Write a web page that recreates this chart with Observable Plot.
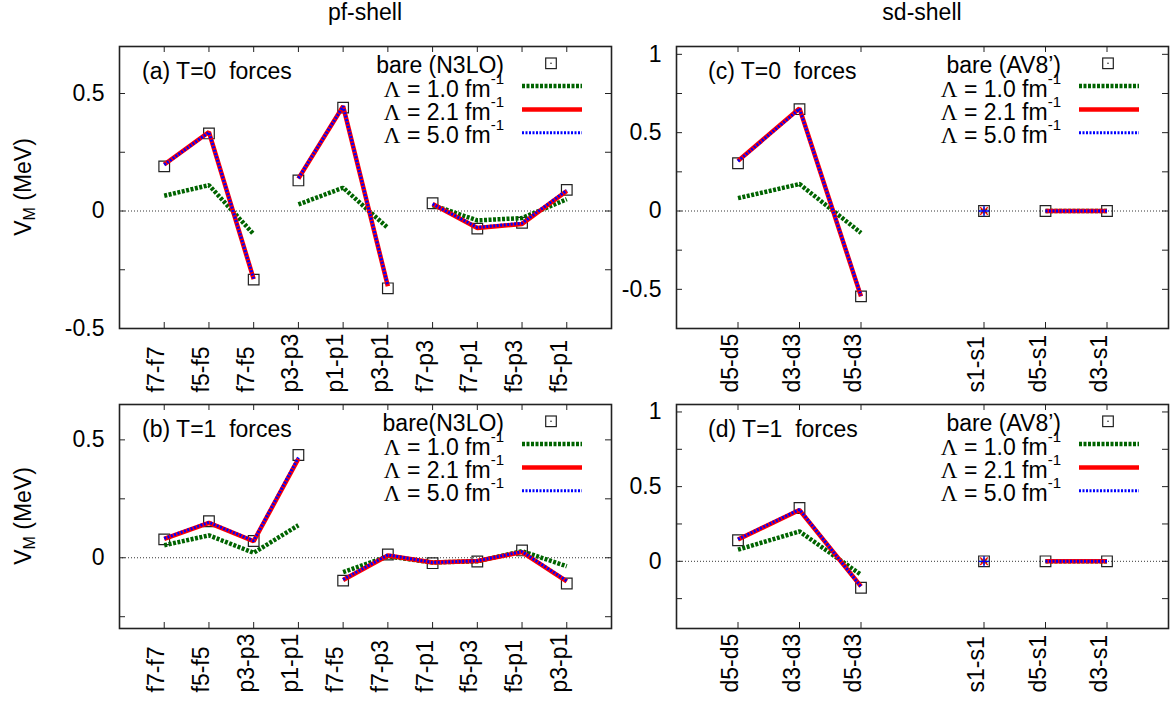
<!DOCTYPE html>
<html><head><meta charset="utf-8">
<script src="https://cdn.jsdelivr.net/npm/d3@7"></script>
<script src="https://cdn.jsdelivr.net/npm/@observablehq/plot@0.6"></script>
<style>
body{margin:0;background:#fff;}
#wrap{position:relative;width:1172px;height:705px;overflow:hidden;background:#fff;}
.panel{position:absolute;}
</style></head><body><div id="wrap"></div>
<script>
// ---------- data ----------
const sectionTitles = ["pf-shell", "sd-shell"];

// (a) pf-shell, T=0
const aLabels = ["f7-f7","f5-f5","f7-f5","p3-p3","p1-p1","p3-p1","f7-p3","f7-p1","f5-p3","f5-p1"];
const aPos    = [1,2,3,4,5,6,7,8,9,10];
const aGroup  = [0,0,0,1,1,1,2,2,2,2];
const aBare   = [0.19, 0.33, -0.292, 0.13, 0.44, -0.329, 0.033, -0.075, -0.05, 0.09];
const aL10    = [0.065, 0.11, -0.099, 0.028, 0.099, -0.072, 0.025, -0.04, -0.03, 0.05];
const aL21    = [0.198, 0.336, -0.29, 0.138, 0.446, -0.32, 0.03, -0.072, -0.055, 0.085];
const aL50    = [0.197, 0.335, -0.288, 0.14, 0.446, -0.318, 0.03, -0.07, -0.052, 0.088];

// (b) pf-shell, T=1
const bLabels = ["f7-f7","f5-f5","p3-p3","p1-p1","f7-f5","f7-p3","f7-p1","f5-p3","f5-p1","p3-p1"];
const bPos    = [1,2,3,4,5,6,7,8,9,10];
const bGroup  = [0,0,0,0,1,1,1,1,1,1];
const bBare   = [0.078, 0.155, 0.071, 0.436, -0.097, 0.014, -0.023, -0.016, 0.031, -0.109];
const bL10    = [0.053, 0.095, 0.021, 0.138, -0.061, 0.006, -0.02, -0.015, 0.028, -0.036];
const bL21    = [0.08, 0.148, 0.07, 0.42, -0.094, 0.01, -0.02, -0.014, 0.024, -0.1];
const bL50    = [0.082, 0.15, 0.072, 0.425, -0.092, 0.012, -0.02, -0.013, 0.026, -0.098];

// (c) sd-shell, T=0
const cLabels = ["d5-d5","d3-d3","d5-d3","s1-s1","d5-s1","d3-s1"];
const cPos    = [1,2,3,5,6,7];
const cGroup  = [0,0,0,1,2,2];
const cBare   = [0.305, 0.65, -0.545, 0, 0, 0];
const cL10    = [0.082, 0.172, -0.14, 0, 0, 0];
const cL21    = [0.32, 0.655, -0.545, 0, 0, 0];
const cL50    = [0.318, 0.652, -0.54, 0, 0, 0];

// (d) sd-shell, T=1
const dLabels = ["d5-d5","d3-d3","d5-d3","s1-s1","d5-s1","d3-s1"];
const dPos    = [1,2,3,5,6,7];
const dGroup  = [0,0,0,1,2,2];
const dBare   = [0.141, 0.357, -0.177, 0, 0, 0];
const dL10    = [0.078, 0.2, -0.09, 0, 0, 0];
const dL21    = [0.146, 0.343, -0.168, 0, 0, 0];
const dL50    = [0.148, 0.347, -0.17, 0, 0, 0];

// axis ticks
const pfTopTickLabels = [-0.5, 0, 0.5];
const pfTopTicks      = [-0.25, 0, 0.25, 0.5];
const pfBotTickLabels = [0, 0.5];
const pfBotTicks      = [-0.25, 0, 0.25, 0.5];
const sdTopTickLabels = [-0.5, 0, 0.5, 1];
const sdTopTicks      = [-0.5, -0.25, 0, 0.25, 0.5, 0.75, 1];
const sdBotTickLabels = [0, 0.5, 1];
const sdBotTicks      = [-0.25, 0, 0.25, 0.5, 0.75, 1];

const lambdas = ["1.0", "2.1", "5.0"];
const panelTags = ["(a) T=0  forces", "(b) T=1  forces", "(c) T=0  forces", "(d) T=1  forces"];
const bareNames = ["bare (N3LO)", "bare(N3LO)", "bare (AV8\u2019)", "bare (AV8\u2019)"];

// ---------- styles ----------
const FONT = "'Liberation Sans', Arial, Helvetica, sans-serif";
const FS = 23;
const GREEN = "#006400", RED = "#ff0000", BLUE = "#0000ff", INK = "#222";
const seriesStyle = [
  {stroke: GREEN, strokeWidth: 4.5, strokeDasharray: "3,1.5"},
  {stroke: RED, strokeWidth: 4.5, strokeDasharray: null},
  {stroke: BLUE, strokeWidth: 3, strokeDasharray: "2,1.5"}
];

function makePanel(o) {
  const {labels, pos, group, bare, series, xDomain, yDomain, tickLabels, ticks,
         left, top, width, height, ml, mr, mt, mb, tag, bareName, tagX, yLabel, title, titleX} = o;
  const idx = d3.range(labels.length);
  const rows = vals => idx.map(i => ({x: pos[i], y: vals[i], g: group[i]}));
  const counts = d3.rollup(idx, v => v.length, i => group[i]);
  const singles = idx.filter(i => counts.get(group[i]) === 1);
  const pw = width - ml - mr, ph = height - mt - mb;

  const lineMarks = series.map((vals, k) => Plot.line(rows(vals), {
    x: "x", y: "y", z: "g",
    stroke: seriesStyle[k].stroke, strokeWidth: seriesStyle[k].strokeWidth,
    strokeDasharray: seriesStyle[k].strokeDasharray,
    strokeLinecap: "butt", strokeLinejoin: "miter"
  }));
  const singleSymbols = ["asterisk", "times", "plus"];
  const singleMarks = series.map((vals, k) => Plot.dot(singles.map(i => ({x: pos[i], y: vals[i]})), {
    x: "x", y: "y", symbol: singleSymbols[k], r: 3.5, stroke: seriesStyle[k].stroke, strokeWidth: 1.3
  }));

  const svg = Plot.plot({
    width, height, marginLeft: ml, marginRight: mr, marginTop: mt, marginBottom: mb,
    style: {fontFamily: FONT, fontSize: FS + "px", background: "#fff", color: "#000", overflow: "visible"},
    x: {domain: xDomain, axis: null},
    y: {domain: yDomain},
    marks: [
      Plot.ruleY([0], {stroke: "#000", strokeWidth: 0.8, strokeDasharray: "1,2"}),
      Plot.tickY(ticks, {y: d => d, insetRight: pw - 6, stroke: INK, strokeWidth: 1}),
      Plot.tickY(ticks, {y: d => d, insetLeft: pw - 6, stroke: INK, strokeWidth: 1}),
      Plot.tickX(pos, {x: d => d, insetTop: ph - 6, stroke: INK, strokeWidth: 1}),
      Plot.tickX(pos, {x: d => d, insetBottom: ph - 6, stroke: INK, strokeWidth: 1}),
      Plot.axisY(tickLabels, {anchor: "left", tickSize: 0, tickPadding: 15, label: null,
        tickFormat: d => String(d), fontSize: FS, fill: "#000"}),
      Plot.text(idx, {x: i => pos[i], text: i => labels[i], frameAnchor: "bottom", dy: 64,
        rotate: -90, textAnchor: "start", fontSize: FS, fill: "#000"}),
      Plot.dot(rows(bare), {x: "x", y: "y", symbol: "square", r: 6, stroke: INK, strokeWidth: 1.2, fill: "none"}),
      ...lineMarks,
      ...singleMarks,
      Plot.frame({stroke: INK, strokeWidth: 1.6})
    ]
  });

  const s = d3.select(svg);
  const fr = width - mr, ft = mt;
  const g = s.append("g").attr("font-family", FONT).attr("font-size", FS).attr("fill", "#000")
    .attr("text-anchor", "start").style("white-space", "pre");
  // panel tag
  g.append("text").attr("x", tagX).attr("y", ft + 33).attr("text-anchor", "start").text(tag);
  // legend
  g.append("text").attr("x", fr - 107).attr("y", ft + 27).attr("text-anchor", "end").text(bareName);
  g.append("rect").attr("x", fr - 60 - 5.3).attr("y", ft + 17.3 - 5.3).attr("width", 10.6).attr("height", 10.6)
    .attr("fill", "none").attr("stroke", INK).attr("stroke-width", 1.2);
  g.append("circle").attr("cx", fr - 60).attr("cy", ft + 17.3).attr("r", 0.8).attr("fill", INK);
  lambdas.forEach((lam, k) => {
    const base = ft + 50.5 + 23.4 * k;
    const t = g.append("text").attr("x", fr - 107).attr("y", base).attr("text-anchor", "end");
    t.append("tspan").attr("font-family", "'Liberation Serif', 'DejaVu Serif', serif").text("\u039B");
    t.append("tspan").text(" = " + lam + " fm");
    t.append("tspan").attr("font-size", 15).attr("dy", -13).text("-1");
    const st = seriesStyle[k];
    const ln = g.append("line").attr("x1", fr - 89).attr("x2", fr - 29)
      .attr("y1", ft + 40 + 23.4 * k).attr("y2", ft + 40 + 23.4 * k)
      .attr("stroke", st.stroke).attr("stroke-width", st.strokeWidth);
    if (st.strokeDasharray) ln.attr("stroke-dasharray", st.strokeDasharray);
  });
  // y label
  if (yLabel) {
    const yl = g.append("text").attr("transform", `translate(25,${ft + ph / 2}) rotate(-90)`)
      .attr("text-anchor", "middle").attr("dominant-baseline", "middle");
    yl.append("tspan").text("V");
    yl.append("tspan").attr("font-size", 16).attr("dy", 6).text("M");
    yl.append("tspan").attr("dy", -6).text(" (MeV)");
  }
  if (title) {
    g.append("text").attr("x", titleX).attr("y", 20).attr("text-anchor", "middle").text(title);
  }

  const div = document.createElement("div");
  div.className = "panel";
  div.style.left = left + "px"; div.style.top = top + "px";
  div.style.width = width + "px"; div.style.height = height + "px";
  div.appendChild(svg);
  document.getElementById("wrap").appendChild(div);
}

makePanel({labels: aLabels, pos: aPos, group: aGroup, bare: aBare, series: [aL10, aL21, aL50],
  xDomain: [0, 11], yDomain: [-0.5, 0.7], tickLabels: pfTopTickLabels, ticks: pfTopTicks,
  left: 0, top: 0, width: 620, height: 400, ml: 119, mr: 9, mt: 46, mb: 72,
  tag: panelTags[0], bareName: bareNames[0], tagX: 142, yLabel: true, title: sectionTitles[0], titleX: 365});

makePanel({labels: bLabels, pos: bPos, group: bGroup, bare: bBare, series: [bL10, bL21, bL50],
  xDomain: [0, 11], yDomain: [-0.3, 0.65], tickLabels: pfBotTickLabels, ticks: pfBotTicks,
  left: 0, top: 400, width: 620, height: 305, ml: 119, mr: 9, mt: 4, mb: 77,
  tag: panelTags[1], bareName: bareNames[1], tagX: 142, yLabel: true});

makePanel({labels: cLabels, pos: cPos, group: cGroup, bare: cBare, series: [cL10, cL21, cL50],
  xDomain: [0, 8], yDomain: [-0.75, 1.05], tickLabels: sdTopTickLabels, ticks: sdTopTicks,
  left: 620, top: 0, width: 552, height: 400, ml: 56, mr: 4, mt: 46, mb: 72,
  tag: panelTags[2], bareName: bareNames[2], tagX: 88, yLabel: false, title: sectionTitles[1], titleX: 302});

makePanel({labels: dLabels, pos: dPos, group: dGroup, bare: dBare, series: [dL10, dL21, dL50],
  xDomain: [0, 8], yDomain: [-0.45, 1.05], tickLabels: sdBotTickLabels, ticks: sdBotTicks,
  left: 620, top: 400, width: 552, height: 305, ml: 56, mr: 4, mt: 4, mb: 77,
  tag: panelTags[3], bareName: bareNames[3], tagX: 88, yLabel: false});
</script></body></html>
